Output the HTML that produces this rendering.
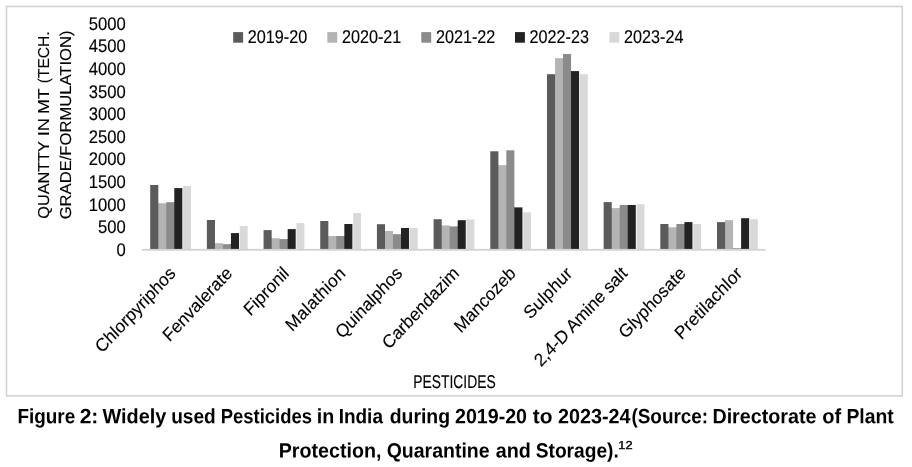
<!DOCTYPE html>
<html><head><meta charset="utf-8"><title>Figure 2</title>
<style>
html,body{margin:0;padding:0;background:#fff;}
body{width:912px;height:467px;overflow:hidden;position:relative;font-family:"Liberation Sans",sans-serif;}
svg{position:absolute;left:0;top:0;filter:grayscale(1);}
text{font-family:"Liberation Sans",sans-serif;text-rendering:geometricPrecision;fill:#000;stroke:#000;stroke-width:0.12px;}
.cap text{stroke:none;}
.soft{filter:blur(0.35px);}
</style></head><body>
<svg width="912" height="467" viewBox="0 0 912 467">
<rect x="0" y="0" width="912" height="467" fill="#fff"/>
<rect x="6.5" y="6.5" width="895.8" height="389.4" fill="none" stroke="#d0d0d0" stroke-width="1.5"/>
<g class="soft">
<rect x="183.15" y="186.0" width="7.85" height="63.6" fill="#d9d9d9"/><rect x="174.30" y="188.1" width="8.05" height="61.5" fill="#222222"/><rect x="174" y="202.2" width="1" height="47.4" fill="#222222"/><rect x="166.25" y="202.2" width="8.05" height="47.4" fill="#8b8b8b"/><rect x="166" y="203.2" width="1" height="46.4" fill="#8b8b8b"/><rect x="158.30" y="203.2" width="7.95" height="46.4" fill="#b4b4b4"/><rect x="158" y="203.2" width="1" height="46.4" fill="#b4b4b4"/><rect x="150.20" y="185.0" width="8.10" height="64.6" fill="#5b5b5b"/>
<rect x="239.83" y="226.0" width="7.85" height="23.6" fill="#d9d9d9"/><rect x="230.98" y="233.1" width="8.05" height="16.5" fill="#222222"/><rect x="230" y="244.2" width="1" height="5.4" fill="#222222"/><rect x="222.93" y="244.2" width="8.05" height="5.4" fill="#8b8b8b"/><rect x="222" y="244.2" width="1" height="5.4" fill="#8b8b8b"/><rect x="214.98" y="243.2" width="7.95" height="6.4" fill="#b4b4b4"/><rect x="214" y="243.2" width="1" height="6.4" fill="#b4b4b4"/><rect x="206.88" y="220.0" width="8.10" height="29.6" fill="#5b5b5b"/>
<rect x="296.51" y="223.1" width="7.85" height="26.5" fill="#d9d9d9"/><rect x="287.66" y="229.1" width="8.05" height="20.5" fill="#222222"/><rect x="287" y="239.1" width="1" height="10.5" fill="#222222"/><rect x="279.61" y="239.1" width="8.05" height="10.5" fill="#8b8b8b"/><rect x="279" y="239.1" width="1" height="10.5" fill="#8b8b8b"/><rect x="271.66" y="238.2" width="7.95" height="11.4" fill="#b4b4b4"/><rect x="271" y="238.2" width="1" height="11.4" fill="#b4b4b4"/><rect x="263.56" y="230.1" width="8.10" height="19.5" fill="#5b5b5b"/>
<rect x="353.19" y="213.1" width="7.85" height="36.5" fill="#d9d9d9"/><rect x="344.34" y="224.0" width="8.05" height="25.6" fill="#222222"/><rect x="344" y="236.0" width="1" height="13.6" fill="#222222"/><rect x="336.29" y="236.0" width="8.05" height="13.6" fill="#8b8b8b"/><rect x="336" y="236.0" width="1" height="13.6" fill="#8b8b8b"/><rect x="328.34" y="236.0" width="7.95" height="13.6" fill="#b4b4b4"/><rect x="328" y="236.0" width="1" height="13.6" fill="#b4b4b4"/><rect x="320.24" y="221.0" width="8.10" height="28.6" fill="#5b5b5b"/>
<rect x="409.87" y="228.0" width="7.85" height="21.6" fill="#d9d9d9"/><rect x="401.02" y="228.0" width="8.05" height="21.6" fill="#222222"/><rect x="401" y="234.2" width="1" height="15.4" fill="#222222"/><rect x="392.97" y="234.2" width="8.05" height="15.4" fill="#8b8b8b"/><rect x="392" y="234.2" width="1" height="15.4" fill="#8b8b8b"/><rect x="385.02" y="231.0" width="7.95" height="18.6" fill="#b4b4b4"/><rect x="385" y="231.0" width="1" height="18.6" fill="#b4b4b4"/><rect x="376.92" y="224.2" width="8.10" height="25.4" fill="#5b5b5b"/>
<rect x="466.55" y="219.5" width="7.85" height="30.1" fill="#d9d9d9"/><rect x="457.70" y="220.2" width="8.05" height="29.4" fill="#222222"/><rect x="457" y="226.4" width="1" height="23.2" fill="#222222"/><rect x="449.65" y="226.4" width="8.05" height="23.2" fill="#8b8b8b"/><rect x="449" y="226.4" width="1" height="23.2" fill="#8b8b8b"/><rect x="441.70" y="225.4" width="7.95" height="24.2" fill="#b4b4b4"/><rect x="441" y="225.4" width="1" height="24.2" fill="#b4b4b4"/><rect x="433.60" y="219.2" width="8.10" height="30.4" fill="#5b5b5b"/>
<rect x="523.23" y="212.3" width="7.85" height="37.3" fill="#d9d9d9"/><rect x="514.38" y="207.4" width="8.05" height="42.2" fill="#222222"/><rect x="514" y="207.4" width="1" height="42.2" fill="#222222"/><rect x="506.33" y="150.3" width="8.05" height="99.3" fill="#8b8b8b"/><rect x="506" y="165.2" width="1" height="84.4" fill="#8b8b8b"/><rect x="498.38" y="165.2" width="7.95" height="84.4" fill="#b4b4b4"/><rect x="498" y="165.2" width="1" height="84.4" fill="#b4b4b4"/><rect x="490.28" y="151.3" width="8.10" height="98.3" fill="#5b5b5b"/>
<rect x="579.91" y="74.2" width="7.85" height="175.4" fill="#d9d9d9"/><rect x="571.06" y="71.1" width="8.05" height="178.5" fill="#222222"/><rect x="571" y="71.1" width="1" height="178.5" fill="#222222"/><rect x="563.01" y="54.0" width="8.05" height="195.6" fill="#8b8b8b"/><rect x="563" y="58.2" width="1" height="191.4" fill="#8b8b8b"/><rect x="555.06" y="58.2" width="7.95" height="191.4" fill="#b4b4b4"/><rect x="555" y="74.2" width="1" height="175.4" fill="#b4b4b4"/><rect x="546.96" y="74.2" width="8.10" height="175.4" fill="#5b5b5b"/>
<rect x="636.59" y="204.2" width="7.85" height="45.4" fill="#d9d9d9"/><rect x="627.74" y="205.0" width="8.05" height="44.6" fill="#222222"/><rect x="627" y="205.0" width="1" height="44.6" fill="#222222"/><rect x="619.69" y="205.0" width="8.05" height="44.6" fill="#8b8b8b"/><rect x="619" y="208.1" width="1" height="41.5" fill="#8b8b8b"/><rect x="611.74" y="208.1" width="7.95" height="41.5" fill="#b4b4b4"/><rect x="611" y="208.1" width="1" height="41.5" fill="#b4b4b4"/><rect x="603.64" y="202.1" width="8.10" height="47.5" fill="#5b5b5b"/>
<rect x="693.27" y="224.0" width="7.85" height="25.6" fill="#d9d9d9"/><rect x="684.42" y="222.1" width="8.05" height="27.5" fill="#222222"/><rect x="684" y="224.0" width="1" height="25.6" fill="#222222"/><rect x="676.37" y="224.0" width="8.05" height="25.6" fill="#8b8b8b"/><rect x="676" y="227.3" width="1" height="22.3" fill="#8b8b8b"/><rect x="668.42" y="227.3" width="7.95" height="22.3" fill="#b4b4b4"/><rect x="668" y="227.3" width="1" height="22.3" fill="#b4b4b4"/><rect x="660.32" y="224.0" width="8.10" height="25.6" fill="#5b5b5b"/>
<rect x="749.95" y="219.3" width="7.85" height="30.3" fill="#d9d9d9"/><rect x="741.10" y="218.2" width="8.05" height="31.4" fill="#222222"/><rect x="741" y="248.2" width="1" height="1.4" fill="#222222"/><rect x="733.05" y="248.2" width="8.05" height="1.4" fill="#8b8b8b"/><rect x="733" y="248.2" width="1" height="1.4" fill="#8b8b8b"/><rect x="725.10" y="220.2" width="7.95" height="29.4" fill="#b4b4b4"/><rect x="725" y="222.1" width="1" height="27.5" fill="#b4b4b4"/><rect x="717.00" y="222.1" width="8.10" height="27.5" fill="#5b5b5b"/>
<rect x="142.1" y="248.9" width="623.5" height="1.8" fill="#d2d2d2"/>
</g>
<text transform="translate(125.7,255.85) scale(1,1.10)" font-size="16.6" text-anchor="end">0</text>
<text transform="translate(125.7,233.23) scale(1,1.10)" font-size="16.6" text-anchor="end">500</text>
<text transform="translate(125.7,210.61) scale(1,1.10)" font-size="16.6" text-anchor="end">1000</text>
<text transform="translate(125.7,187.99) scale(1,1.10)" font-size="16.6" text-anchor="end">1500</text>
<text transform="translate(125.7,165.37) scale(1,1.10)" font-size="16.6" text-anchor="end">2000</text>
<text transform="translate(125.7,142.75) scale(1,1.10)" font-size="16.6" text-anchor="end">2500</text>
<text transform="translate(125.7,120.13) scale(1,1.10)" font-size="16.6" text-anchor="end">3000</text>
<text transform="translate(125.7,97.51) scale(1,1.10)" font-size="16.6" text-anchor="end">3500</text>
<text transform="translate(125.7,74.89) scale(1,1.10)" font-size="16.6" text-anchor="end">4000</text>
<text transform="translate(125.7,52.27) scale(1,1.10)" font-size="16.6" text-anchor="end">4500</text>
<text transform="translate(125.7,29.65) scale(1,1.10)" font-size="16.6" text-anchor="end">5000</text>
<rect x="233.2" y="32.1" width="9.9" height="10.6" fill="#5b5b5b"/><text transform="translate(247.8,42.7) scale(1,1.12)" font-size="16.4" textLength="59.4" lengthAdjust="spacingAndGlyphs">2019-20</text>
<rect x="327.3" y="32.1" width="9.9" height="10.6" fill="#b4b4b4"/><text transform="translate(341.9,42.7) scale(1,1.12)" font-size="16.4" textLength="59.4" lengthAdjust="spacingAndGlyphs">2020-21</text>
<rect x="421.3" y="32.1" width="9.9" height="10.6" fill="#8b8b8b"/><text transform="translate(435.9,42.7) scale(1,1.12)" font-size="16.4" textLength="59.4" lengthAdjust="spacingAndGlyphs">2021-22</text>
<rect x="515.0" y="32.1" width="9.9" height="10.6" fill="#222222"/><text transform="translate(529.6,42.7) scale(1,1.12)" font-size="16.4" textLength="59.4" lengthAdjust="spacingAndGlyphs">2022-23</text>
<rect x="609.4" y="32.1" width="9.9" height="10.6" fill="#d9d9d9"/><text transform="translate(624.0,42.7) scale(1,1.12)" font-size="16.4" textLength="59.4" lengthAdjust="spacingAndGlyphs">2023-24</text>
<text transform="translate(49.35,0) rotate(-90)" x="-218.67" font-size="15.8" textLength="77.57" lengthAdjust="spacingAndGlyphs">QUANTTY</text>
<text transform="translate(49.35,0) rotate(-90)" x="-136.24" font-size="15.8" textLength="18.37" lengthAdjust="spacingAndGlyphs">IN</text>
<text transform="translate(49.35,0) rotate(-90)" x="-114.01" font-size="15.8" textLength="25.76" lengthAdjust="spacingAndGlyphs">MT</text>
<text transform="translate(49.35,0) rotate(-90)" x="-83.18" font-size="15.8" textLength="51.66" lengthAdjust="spacingAndGlyphs">(TECH.</text>
<text transform="translate(70.9,124.9) rotate(-90)" font-size="15.8" text-anchor="middle" textLength="188.8" lengthAdjust="spacingAndGlyphs">GRADE/FORMULATION)</text>
<text transform="translate(173.8,271.4) scale(1,1.065) rotate(-45)" font-size="17.1" text-anchor="end" dy="4">Chlorpyriphos</text>
<text transform="translate(230.5,271.4) scale(1,1.065) rotate(-45)" font-size="17.1" text-anchor="end" dy="4">Fenvalerate</text>
<text transform="translate(287.2,271.4) scale(1,1.065) rotate(-45)" font-size="17.1" text-anchor="end" dy="4">Fipronil</text>
<text transform="translate(343.8,271.4) scale(1,1.065) rotate(-45)" font-size="17.1" text-anchor="end" dy="4" letter-spacing="0.3">Malathion</text>
<text transform="translate(400.5,271.4) scale(1,1.065) rotate(-45)" font-size="17.1" text-anchor="end" dy="4">Quinalphos</text>
<text transform="translate(457.2,271.4) scale(1,1.065) rotate(-45)" font-size="17.1" text-anchor="end" dy="4" letter-spacing="-0.12">Carbendazim</text>
<text transform="translate(513.9,271.4) scale(1,1.065) rotate(-45)" font-size="17.1" text-anchor="end" dy="4">Mancozeb</text>
<text transform="translate(570.6,271.4) scale(1,1.065) rotate(-45)" font-size="17.1" text-anchor="end" dy="4" letter-spacing="0.24">Sulphur</text>
<text transform="translate(625.4,271.6) scale(1,1.065) rotate(-45)" font-size="17.1" text-anchor="end" dy="4" letter-spacing="-0.12">2,4-D Amine salt</text>
<text transform="translate(683.9,271.4) scale(1,1.065) rotate(-45)" font-size="17.1" text-anchor="end" dy="4">Glyphosate</text>
<text transform="translate(740.6,271.4) scale(1,1.065) rotate(-45)" font-size="17.1" text-anchor="end" dy="4" letter-spacing="0.18">Pretilachlor</text>
<text transform="translate(413.3,388.0) scale(1,1.13)" font-size="16.4" textLength="82.4" lengthAdjust="spacingAndGlyphs">PESTICIDES</text>
<g font-size="18.4" font-weight="bold" class="cap">
<text transform="translate(17.47,423.3) rotate(0.03) scale(1,1.12)" textLength="57.76" lengthAdjust="spacingAndGlyphs">Figure</text>
<text transform="translate(79.64,423.3) rotate(0.03) scale(1,1.12)" textLength="18.74" lengthAdjust="spacingAndGlyphs">2:</text>
<text transform="translate(102.50,423.3) rotate(0.03) scale(1,1.12)" textLength="63.87" lengthAdjust="spacingAndGlyphs">Widely</text>
<text transform="translate(171.20,423.3) rotate(0.03) scale(1,1.12)" textLength="44.53" lengthAdjust="spacingAndGlyphs">used</text>
<text transform="translate(220.75,423.3) rotate(0.03) scale(1,1.12)" textLength="91.24" lengthAdjust="spacingAndGlyphs">Pesticides</text>
<text transform="translate(316.66,423.3) rotate(0.03) scale(1,1.12)" textLength="17.51" lengthAdjust="spacingAndGlyphs">in</text>
<text transform="translate(338.71,423.3) rotate(0.03) scale(1,1.12)" textLength="44.21" lengthAdjust="spacingAndGlyphs">India</text>
<text transform="translate(389.71,423.3) rotate(0.03) scale(1,1.12)" textLength="60.31" lengthAdjust="spacingAndGlyphs">during</text>
<text transform="translate(454.95,423.3) rotate(0.03) scale(1,1.12)" textLength="72.10" lengthAdjust="spacingAndGlyphs">2019-20</text>
<text transform="translate(532.72,423.3) rotate(0.03) scale(1,1.12)" textLength="19.73" lengthAdjust="spacingAndGlyphs">to</text>
<text transform="translate(557.94,423.3) rotate(0.03) scale(1,1.12)" textLength="72.56" lengthAdjust="spacingAndGlyphs">2023-24</text>
<text transform="translate(631.47,423.3) rotate(0.03) scale(1,1.12)" textLength="76.69" lengthAdjust="spacingAndGlyphs">(Source:</text>
<text transform="translate(712.41,423.3) rotate(0.03) scale(1,1.12)" textLength="103.99" lengthAdjust="spacingAndGlyphs">Directorate</text>
<text transform="translate(822.18,423.3) rotate(0.03) scale(1,1.12)" textLength="18.91" lengthAdjust="spacingAndGlyphs">of</text>
<text transform="translate(846.44,423.3) rotate(0.03) scale(1,1.12)" textLength="47.29" lengthAdjust="spacingAndGlyphs">Plant</text>
<text transform="translate(278.66,457.5) rotate(0.03) scale(1,1.12)" textLength="102.74" lengthAdjust="spacingAndGlyphs">Protection,</text>
<text transform="translate(386.70,457.5) rotate(0.03) scale(1,1.12)" textLength="102.92" lengthAdjust="spacingAndGlyphs">Quarantine</text>
<text transform="translate(495.71,457.5) rotate(0.03) scale(1,1.12)" textLength="35.08" lengthAdjust="spacingAndGlyphs">and</text>
<text transform="translate(535.73,457.5) rotate(0.03) scale(1,1.12)" textLength="83.04" lengthAdjust="spacingAndGlyphs">Storage).</text>
</g>
<text x="618.39" y="448.9" font-size="11.5" style="stroke-width:0.4px" textLength="14.22" lengthAdjust="spacingAndGlyphs">12</text>
</svg>
</body></html>
